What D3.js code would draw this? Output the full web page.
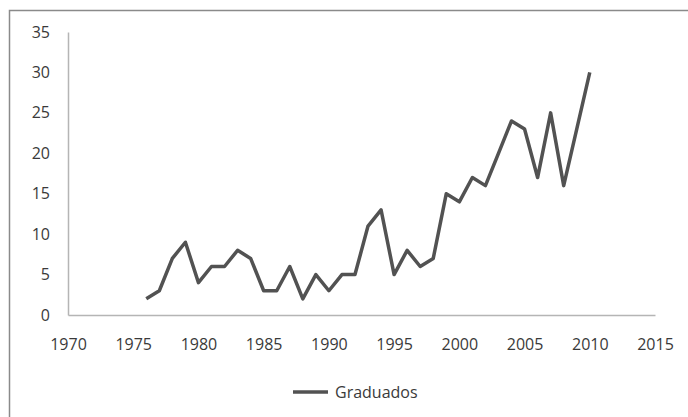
<!DOCTYPE html>
<html>
<head>
<meta charset="utf-8">
<script src="https://cdn.jsdelivr.net/npm/d3@7"></script>
<style>
  body { margin: 0; background: #fff; }
  svg text { font-family: "Open Sans", sans-serif; fill: #3a3a3a; }
</style>
</head>
<body>
<svg id="chart" width="688" height="417"></svg>
<script>
// years and graduates
var years = [1976, 1977, 1978, 1979, 1980, 1981, 1982, 1983, 1984, 1985,
    1986, 1987, 1988, 1989, 1990, 1991, 1992, 1993, 1994, 1995,
    1996, 1997, 1998, 1999, 2000, 2001, 2002, 2003, 2004, 2005,
    2006, 2007, 2008, 2009, 2010];
var graduados = [2, 3, 7, 9, 4, 6, 6, 8, 7, 3,
    3, 6, 2, 5, 3, 5, 5, 11, 13, 5,
    8, 6, 7, 15, 14, 17, 16, 20, 24, 23,
    17, 25, 16, 23, 30];
var xTicks = [1970, 1975, 1980, 1985, 1990, 1995, 2000, 2005, 2010, 2015];
var yTicks = [0, 5, 10, 15, 20, 25, 30, 35];
var seriesName = "Graduados";

var svg = d3.select("#chart");

// outer frame (runs off right and bottom edge)
svg.append("rect")
    .attr("x", 9.5).attr("y", 10.5)
    .attr("width", 700).attr("height", 420)
    .attr("fill", "none")
    .attr("stroke", "#8a8a8a")
    .attr("stroke-width", 1.5);

var x = d3.scaleLinear().domain([1970, 2015]).range([68, 655]);
var y = d3.scaleLinear().domain([0, 35]).range([315, 32]);

var xAxis = svg.append("g")
    .attr("transform", "translate(0,315)")
    .call(d3.axisBottom(x).tickValues(xTicks).tickSize(0).tickPadding(24).tickFormat(d3.format("d")));
var yAxis = svg.append("g")
    .attr("transform", "translate(68,0)")
    .call(d3.axisLeft(y).tickValues(yTicks).tickSize(0).tickPadding(18));

[xAxis, yAxis].forEach(function (a) {
    a.select(".domain").attr("stroke", "#b5b5b5").attr("stroke-width", 1.5);
    a.selectAll("text").attr("font-size", "16px").attr("fill", "#3a3a3a");
});

var line = d3.line()
    .x(function (d, i) { return x(years[i]); })
    .y(function (d) { return y(d); });

svg.append("path")
    .datum(graduados)
    .attr("d", line)
    .attr("fill", "none")
    .attr("stroke", "#525252")
    .attr("stroke-width", 3.5)
    .attr("stroke-linejoin", "round");

// legend
var lg = svg.append("g").attr("transform", "translate(293,392)");
lg.append("line")
    .attr("x1", 0).attr("x2", 35)
    .attr("y1", 0).attr("y2", 0)
    .attr("stroke", "#525252")
    .attr("stroke-width", 3.5);
lg.append("text")
    .attr("x", 42).attr("y", 0)
    .attr("dy", "0.35em")
    .attr("font-size", "16px")
    .text(seriesName);
</script>
</body>
</html>
